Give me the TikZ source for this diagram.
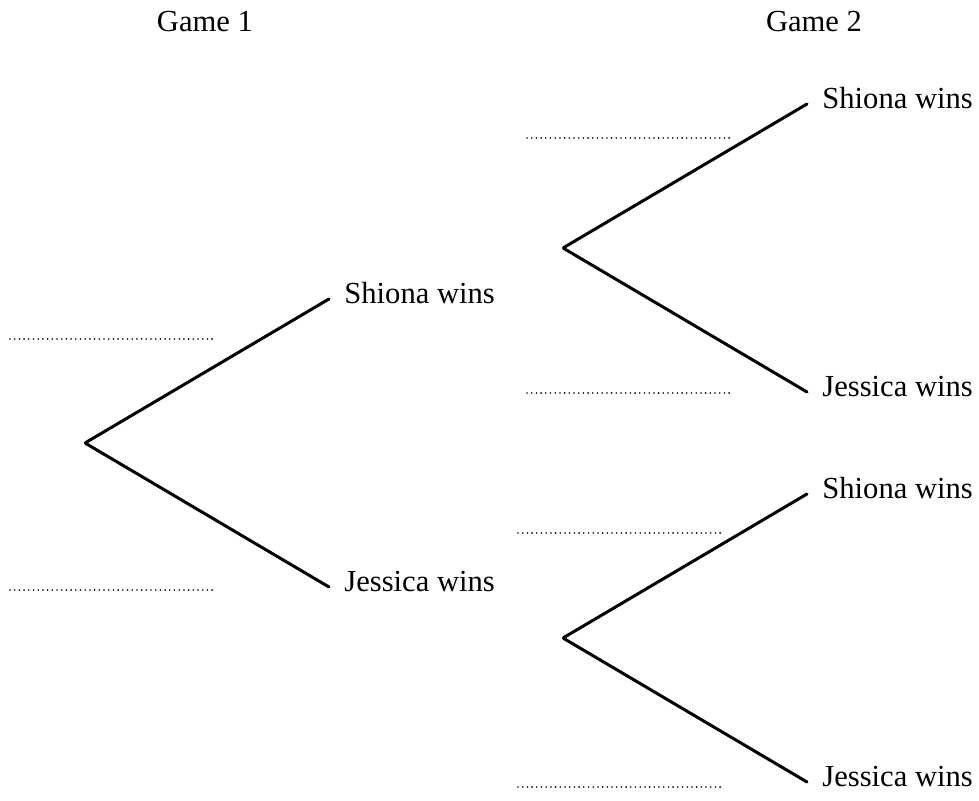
\documentclass[tikz,border=0pt]{standalone}
\usepackage{fontspec}
\setmainfont{Liberation Serif}
\tikzset{
	outcome/.style={anchor=west, inner xsep=7.5pt, inner ysep=0pt, text height=0.7em, text depth=0.25em},
	fork/.style={inner sep=0pt, minimum size=0pt},
	blank/.style={line width=0.9pt, line cap=round, dash pattern=on 0pt off 2.35pt},
}

\begin{document}
\begin{tikzpicture}[
            x=0.5pt, y=-0.5pt,
            font=\fontsize{15.3}{18}\selectfont,
            grow'=right,
            level distance=122pt,
            sibling distance=144pt,
            every child node/.style={outcome},
            child anchor=west,
            edge from parent/.style={draw, line width=1.5pt, line cap=round}
        ]
        \useasboundingbox (0,0) rectangle (979,801);
        % column headings
        \node (game1) at (205,22) {Game 1};
        \node (game2) at (814,22) {Game 2};
        % first game
        \node[fork] (first) at (85,443) {}
        child {
                node (firstS) {Shiona wins}
            }
        child {
                node (firstJ) {Jessica wins}
            };
        % second game, after Shiona wins
        \node[fork] (upper) at (563,248) {}
        child {
                node (upperS) {Shiona wins}
            }
        child {
                node (upperJ) {Jessica wins}
            };
        % second game, after Jessica wins
        \node[fork] (lower) at (563,638) {}
        child {
                node (lowerS) {Shiona wins}
            }
        child {
                node (lowerJ) {Jessica wins}
            };
        % spaces for the probabilities
        \draw[blank] (10,339) -- (215,339);
        \draw[blank] (10,590) -- (215,590);
        \draw[blank] (527,138) -- (733,138);
        \draw[blank] (527,393) -- (733,393);
        \draw[blank] (518,533) -- (723,533);
        \draw[blank] (518,787) -- (723,787);
    \end{tikzpicture}
\end{document}
